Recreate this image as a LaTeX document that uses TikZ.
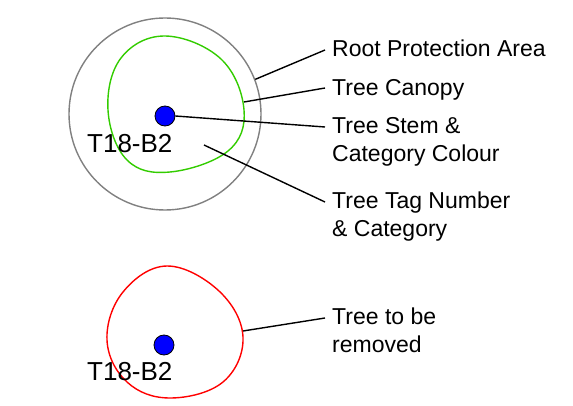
\documentclass[tikz,border=0pt]{standalone}
\usepackage{fontspec}
\setmainfont{Liberation Sans}
\usetikzlibrary{calc}
\definecolor{canopygreen}{RGB}{51,204,0}
\tikzset{
  lbl/.style={anchor=north west, inner xsep=7pt, inner ysep=0pt, align=left,
    font=\fontsize{23}{28}\selectfont},
  tag/.style={anchor=north west, inner sep=0pt, font=\fontsize{26}{30}\selectfont},
  stemdot/.style={circle, fill=blue, draw=black, line width=0.8pt, minimum size=20pt, inner sep=0pt},
  leader/.style={draw=black, line width=1.4pt},
}
\begin{document}
\begin{tikzpicture}[x=1pt,y=-1pt]
\useasboundingbox (0,0) rectangle (573,406);
% top tree
\node[circle, draw=gray, line width=1.4pt, minimum size=192pt, inner sep=0pt] (rpa) at (165,114) {};
\draw[canopygreen, line width=1.4pt] plot[smooth cycle, tension=0.65] coordinates {
 (165,36) (221,59) (244,110) (228,151) (170,172) (127,160) (108,110) (121,58)};
\coordinate (canopyPt) at (244,102);
\coordinate (tagPt) at (204,145);
\node[stemdot] (stem) at (165,116) {};
\node[tag] (tagA) at (87,134) {T18-B2};
% labels
\node[lbl] (lRPA) at (325,40) {Root Protection Area};
\node[lbl] (lCan) at (325,79) {Tree Canopy};
\node[lbl] (lStem) at (325,117) {Tree Stem \&\\Category Colour};
\node[lbl] (lTag) at (325,192) {Tree Tag Number\\\& Category};
\draw[leader] (rpa.21) -- ($(lRPA.north west)+(0,10)$);
\draw[leader] (canopyPt) -- ($(lCan.north west)+(0,9)$);
\draw[leader] (stem.east) -- ($(lStem.north west)+(0,10)$);
\draw[leader] (tagPt) -- ($(lTag.north west)+(0,10)$);
% bottom tree
\draw[red, line width=1.4pt] plot[smooth cycle, tension=0.65] coordinates {
 (167,266) (219,291) (243,337) (223,382) (170,398) (127,382) (107,340) (123,292)};
\coordinate (redPt) at (243,331);
\node[stemdot] (stemB) at (164,345) {};
\node[tag] (tagB) at (87,362) {T18-B2};
\node[lbl] (lRem) at (325,308) {Tree to be\\removed};
\draw[leader] (redPt) -- ($(lRem.north west)+(0,10)$);
\end{tikzpicture}
\end{document}
